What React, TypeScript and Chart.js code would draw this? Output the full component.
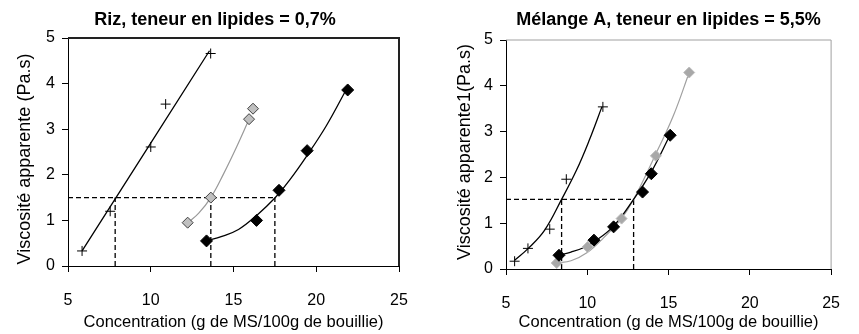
import React, { useEffect, useRef } from 'react';
import { Chart, registerables } from 'chart.js';

Chart.register(...registerables);

const FONT = "'Liberation Sans', Arial, Helvetica, sans-serif";

// ---------- shared axis data ----------
const X_MIN = 5;
const X_MAX = 25;
const X_STEP = 5;
const Y_MIN = 0;
const Y_MAX = 5;
const Y_STEP = 1;
const X_LABEL = 'Concentration (g de MS/100g de bouillie)';

// ---------- left panel: Riz ----------
const leftTitle = 'Riz, teneur en lipides = 0,7%';
const leftYLabel = 'Viscosité apparente (Pa.s)';

const leftCrossX = [5.85, 7.55, 10.0, 10.9, 13.62];
const leftCrossY = [0.33, 1.2, 2.61, 3.55, 4.66];
const leftCrossFitX = [5.85, 13.55];
const leftCrossFitY = [0.33, 4.72];

const leftGrayX = [12.23, 13.63, 15.94, 16.18];
const leftGrayY = [0.95, 1.5, 3.22, 3.45];
const leftGrayFitX = [12.25, 12.9, 13.63, 14.4, 15.2, 15.92];
const leftGrayFitY = [0.95, 1.16, 1.5, 2.02, 2.62, 3.2];

const leftBlackX = [13.37, 16.39, 17.75, 19.45, 21.9];
const leftBlackY = [0.55, 1.0, 1.66, 2.53, 3.86];
const leftBlackFitX = [13.33, 14.3, 15.3, 16.4, 17.5, 18.4, 19.4, 20.6, 21.8];
const leftBlackFitY = [0.55, 0.65, 0.8, 1.11, 1.49, 1.89, 2.4, 3.07, 3.86];

const leftGuideY = 1.5;
const leftGuideX = [7.85, 13.63, 17.5];

// ---------- right panel: Mélange A ----------
const rightTitle = 'Mélange A, teneur en lipides = 5,5%';
const rightYLabel = 'Viscosité apparente1(Pa.s)';

const rightCrossX = [5.53, 6.35, 7.69, 8.71, 10.96];
const rightCrossY = [0.17, 0.45, 0.87, 1.96, 3.54];
const rightCrossFitX = [5.53, 6.37, 7.38, 8.42, 9.34, 10.12, 10.9];
const rightCrossFitY = [0.19, 0.45, 0.85, 1.52, 2.16, 2.81, 3.54];

const rightBlackX = [8.26, 10.41, 11.62, 13.4, 13.94, 15.1];
const rightBlackY = [0.3, 0.63, 0.92, 1.68, 2.08, 2.92];
const rightBlackFitX = [8.26, 9.0, 9.8, 10.41, 11.6, 12.85, 13.94, 15.1];
const rightBlackFitY = [0.3, 0.37, 0.47, 0.59, 0.93, 1.52, 2.12, 2.93];

const rightGrayX = [8.12, 10.02, 12.11, 14.22, 16.27];
const rightGrayY = [0.13, 0.48, 1.1, 2.47, 4.29];
const rightGrayFitX = [8.12, 9.0, 10.0, 11.0, 12.1, 12.85, 14.2, 15.3, 16.27];
const rightGrayFitY = [0.13, 0.18, 0.36, 0.68, 1.1, 1.52, 2.5, 3.35, 4.29];

const rightGuideY = 1.52;
const rightGuideX = [8.42, 12.85];

// ---------- helpers ----------
const pts = (xs: number[], ys: number[]) => xs.map((x, i) => ({ x, y: ys[i] }));

const markerSet = (xs: number[], ys: number[], style: string, bg: string, border: string, radius: number) => ({
  data: pts(xs, ys),
  showLine: false,
  pointStyle: style,
  pointRadius: radius,
  pointBackgroundColor: bg,
  pointBorderColor: border,
  pointBorderWidth: 1,
  order: 0,
});

const curveSet = (xs: number[], ys: number[], color: string, width: number) => ({
  data: pts(xs, ys),
  showLine: true,
  pointRadius: 0,
  borderColor: color,
  borderWidth: width,
  tension: 0.4,
  order: 1,
});

const guideSets = (level: number, xs: number[]) => {
  const dash = [5, 3];
  const sets: any[] = [
    {
      data: [{ x: X_MIN, y: level }, { x: Math.max(...xs), y: level }],
      showLine: true,
      pointRadius: 0,
      borderColor: '#000',
      borderWidth: 1.3,
      borderDash: dash,
      order: 2,
    },
  ];
  xs.forEach((x) => {
    sets.push({
      data: [{ x, y: Y_MIN }, { x, y: level }],
      showLine: true,
      pointRadius: 0,
      borderColor: '#000',
      borderWidth: 1.3,
      borderDash: dash,
      order: 2,
    });
  });
  return sets;
};

const framePlugin = {
  id: 'frame',
  afterDatasetsDraw(chart: any, _args: any, opts: any) {
    const { ctx, chartArea } = chart;
    const { left, right, top, bottom } = chartArea;
    ctx.save();
    ctx.strokeStyle = opts.color;
    ctx.lineWidth = opts.width;
    ctx.beginPath();
    ctx.moveTo(left, top);
    ctx.lineTo(right, top);
    ctx.lineTo(right, bottom);
    ctx.stroke();
    ctx.restore();
  },
};

const panelTextPlugin = {
  id: 'panelText',
  afterDraw(chart: any, _args: any, opts: any) {
    const { ctx, chartArea, width } = chart;
    const cx = opts.centerOn === 'area' ? (chartArea.left + chartArea.right) / 2 : width / 2;
    ctx.save();
    ctx.fillStyle = '#000';
    ctx.textAlign = 'center';
    ctx.textBaseline = 'middle';
    ctx.font = `bold ${opts.titleSize}px ${FONT}`;
    ctx.fillText(opts.title, cx, opts.titleY);
    ctx.translate(opts.yLabelX, opts.yLabelY);
    ctx.rotate(-Math.PI / 2);
    ctx.font = `${opts.yLabelSize}px ${FONT}`;
    ctx.fillText(opts.yLabel, 0, 0);
    ctx.restore();
  },
};

type PanelProps = {
  width: number;
  height: number;
  datasets: any[];
  title: string;
  titleCenterOn: 'canvas' | 'area';
  yLabel: string;
  yLabelX: number;
  yLabelY: number;
  yBoxWidth: number;
  xBoxHeight: number;
  padTop: number;
  padRight: number;
  frameColor: string;
  frameWidth: number;
};

function Panel(p: PanelProps) {
  const ref = useRef<HTMLCanvasElement | null>(null);
  useEffect(() => {
    if (!ref.current) return;
    const chart = new Chart(ref.current, {
      type: 'scatter',
      data: { datasets: p.datasets },
      plugins: [framePlugin, panelTextPlugin],
      options: {
        responsive: false,
        animation: false,
        devicePixelRatio: 1,
        layout: { padding: { top: p.padTop, right: p.padRight, left: 0, bottom: 0 } },
        plugins: {
          legend: { display: false },
          tooltip: { enabled: false },
          frame: { color: p.frameColor, width: p.frameWidth },
          panelText: {
            title: p.title,
            titleSize: 18,
            titleY: 20,
            centerOn: p.titleCenterOn,
            yLabel: p.yLabel,
            yLabelSize: 18,
            yLabelX: p.yLabelX,
            yLabelY: p.yLabelY,
          },
        } as any,
        scales: {
          x: {
            type: 'linear',
            min: X_MIN,
            max: X_MAX,
            afterFit: (s: any) => {
              s.height = p.xBoxHeight;
            },
            ticks: {
              stepSize: X_STEP,
              color: '#000',
              font: { size: 16, family: FONT },
              padding: 19,
              maxRotation: 0,
            },
            grid: { drawOnChartArea: false, drawTicks: true, tickLength: 6, color: '#000' },
            border: { display: true, color: '#000', width: 1 },
            title: {
              display: true,
              text: X_LABEL,
              color: '#000',
              font: { size: 16.5, family: FONT },
              padding: { top: 0, bottom: 2 },
            },
          },
          y: {
            type: 'linear',
            min: Y_MIN,
            max: Y_MAX,
            afterFit: (s: any) => {
              s.width = p.yBoxWidth;
            },
            ticks: {
              stepSize: Y_STEP,
              color: '#000',
              font: { size: 16, family: FONT },
              padding: 7,
            },
            grid: { drawOnChartArea: false, drawTicks: true, tickLength: 6, color: '#000' },
            border: { display: true, color: '#000', width: 1 },
            title: { display: false },
          },
        },
      } as any,
    });
    return () => chart.destroy();
  }, []);
  return <canvas ref={ref} width={p.width} height={p.height} style={{ display: 'block', width: p.width, height: p.height }} />;
}

const leftDatasets = [
  markerSet(leftCrossX, leftCrossY, 'cross', '#000', '#000', 5),
  markerSet(leftGrayX, leftGrayY, 'rectRot', '#c0c0c0', '#404040', 5.5),
  markerSet(leftBlackX, leftBlackY, 'rectRot', '#000', '#000', 6),
  curveSet(leftCrossFitX, leftCrossFitY, '#000', 1.3),
  curveSet(leftGrayFitX, leftGrayFitY, '#999999', 1.2),
  curveSet(leftBlackFitX, leftBlackFitY, '#000', 1.3),
  ...guideSets(leftGuideY, leftGuideX),
];

const rightDatasets = [
  markerSet(rightCrossX, rightCrossY, 'cross', '#000', '#000', 5),
  markerSet(rightBlackX, rightBlackY, 'rectRot', '#000', '#000', 6),
  markerSet(rightGrayX, rightGrayY, 'rectRot', '#a8a8a8', '#bdbdbd', 5.5),
  curveSet(rightCrossFitX, rightCrossFitY, '#000', 1.3),
  curveSet(rightBlackFitX, rightBlackFitY, '#000', 1.3),
  curveSet(rightGrayFitX, rightGrayFitY, '#a0a0a0', 1.2),
  ...guideSets(rightGuideY, rightGuideX),
];

export default function App() {
  return (
    <div style={{ position: 'absolute', left: 0, top: 0, width: 859, height: 334, background: '#fff', display: 'flex' }}>
      <Panel
        width={430}
        height={334}
        datasets={leftDatasets}
        title={leftTitle}
        titleCenterOn="canvas"
        yLabel={leftYLabel}
        yLabelX={25}
        yLabelY={159}
        yBoxWidth={68}
        xBoxHeight={68}
        padTop={38}
        padRight={31}
        frameColor="#222"
        frameWidth={2}
      />
      <Panel
        width={429}
        height={334}
        datasets={rightDatasets}
        title={rightTitle}
        titleCenterOn="area"
        yLabel={rightYLabel}
        yLabelX={35}
        yLabelY={152}
        yBoxWidth={76}
        xBoxHeight={65}
        padTop={40}
        padRight={12}
        frameColor="#a0a0a0"
        frameWidth={1}
      />
    </div>
  );
}
